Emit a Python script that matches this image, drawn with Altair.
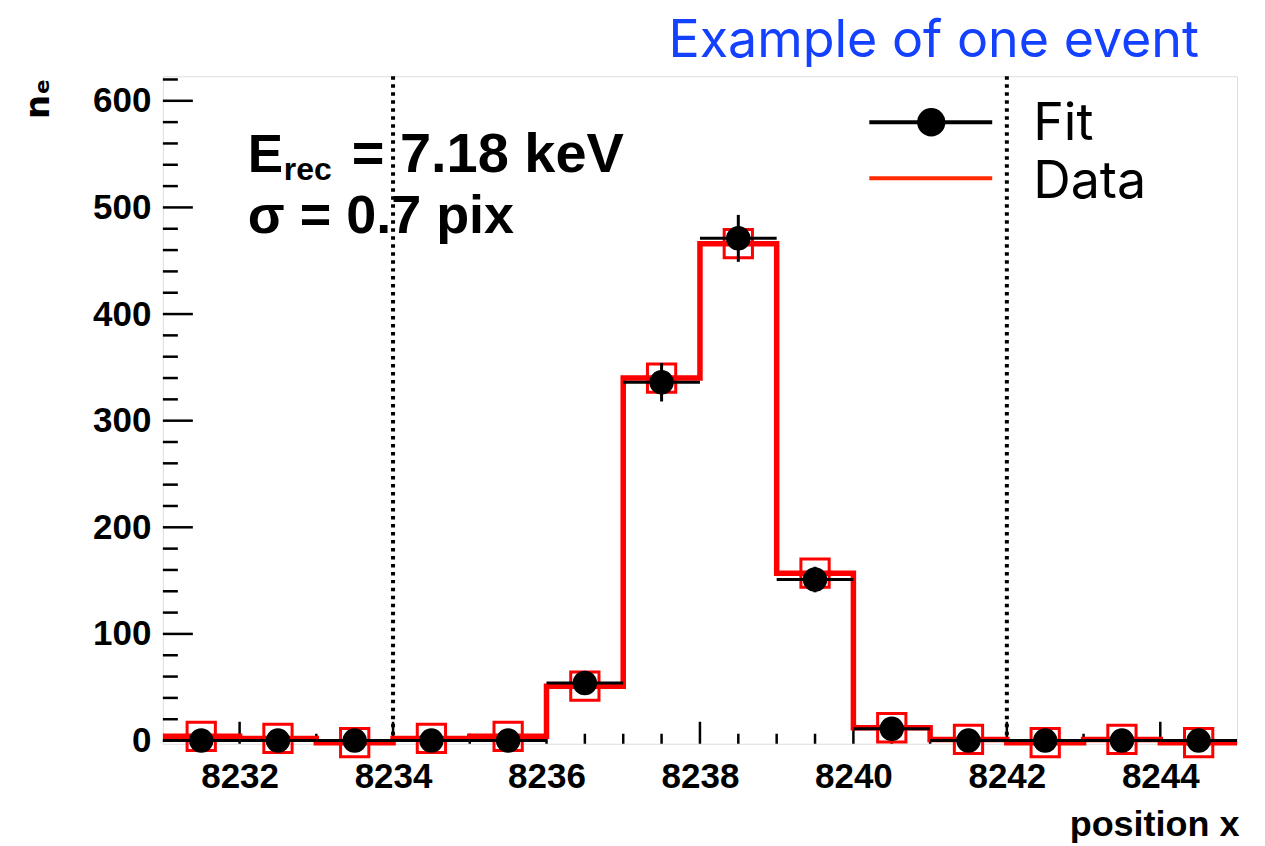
import altair as alt
import pandas as pd

# ---- data ----
bin_centers = [8231.5, 8232.5, 8233.5, 8234.5, 8235.5, 8236.5, 8237.5,
               8238.5, 8239.5, 8240.5, 8241.5, 8242.5, 8243.5, 8244.5]
fit_values = [0, 0, 0, 0, 0, 54, 336, 471, 151, 11, 0, 0, 0, 0]
fit_errors = [0, 0, 0, 0, 0, 7, 18, 22, 12, 3, 0, 0, 0, 0]
data_values = [4, 2, -2, 2, 4, 51, 340, 466, 157, 12, 1, -2, 1, -2]
bin_width = 1.0

x_label_values = [8232, 8234, 8236, 8238, 8240, 8242, 8244]
y_label_values = [0, 100, 200, 300, 400, 500, 600]
x_minor_ticks = [8231.5, 8232.5, 8233, 8233.5, 8234.5, 8235, 8235.5, 8236.5,
                 8237, 8237.5, 8238.5, 8239, 8239.5, 8240.5, 8241, 8241.5,
                 8242.5, 8243, 8243.5, 8244.5]
y_minor_ticks = [20, 40, 60, 80, 120, 140, 160, 180, 220, 240, 260, 280,
                 320, 340, 360, 380, 420, 440, 460, 480, 520, 540, 560, 580, 620]
marker_lines = [8234, 8242]

X_DOMAIN = [8231, 8245]
Y_DOMAIN = [-3, 623]
W, H = 1075, 668

# ---- tables ----
df = pd.DataFrame({
    "x": bin_centers,
    "fit": fit_values,
    "err": fit_errors,
    "data": data_values,
})
df["lo"] = df["x"] - bin_width / 2
df["hi"] = df["x"] + bin_width / 2
df["fit_lo"] = df["fit"] - df["err"]
df["fit_hi"] = df["fit"] + df["err"]

step_df = pd.DataFrame({
    "edge": list(df["lo"]) + [df["hi"].iloc[-1]],
    "val": data_values + [data_values[-1]],
})

LABEL_FONT = "Liberation Sans, Arial"
TEXT_FONT = "Liberation Sans, Arial"
LEGEND_FONT = "Inter, Liberation Sans, Arial"

x_scale = alt.Scale(domain=X_DOMAIN, nice=False, zero=False)
y_scale = alt.Scale(domain=Y_DOMAIN, nice=False, zero=False)

x_axis = alt.Axis(
    values=x_label_values, format="d", ticks=False, domain=False, grid=False,
    labelFont=LABEL_FONT, labelFontSize=35, labelFontWeight="bold",
    labelColor="black", labelPadding=16,
    title="position x", titleFont=LABEL_FONT, titleFontSize=36,
    titleFontWeight="bold", titleColor="black",
    titleAnchor="end", titleAlign="right", titleBaseline="alphabetic",
    titleX=W + 2, titleY=92,
)
y_axis = alt.Axis(
    values=y_label_values, format="d", ticks=False, domain=False, grid=False,
    labelFont=LABEL_FONT, labelFontSize=35, labelFontWeight="bold",
    labelColor="black", labelPadding=12,
    title="nₑ", titleFont="DejaVu Sans, Liberation Sans", titleFontSize=34,
    titleFontWeight="bold",
    titleColor="black", titleAngle=270, titleAlign="center",
    titleBaseline="middle", titleX=-124, titleY=22,
)


def X(field):
    return alt.X(field, type="quantitative", scale=x_scale, axis=x_axis)


def Y(field):
    return alt.Y(field, type="quantitative", scale=y_scale, axis=y_axis)


base = alt.Chart(df)

# red histogram (data)
red_step = alt.Chart(step_df).mark_line(
    interpolate="step-after", color="#ff0000", strokeWidth=5.5
).encode(x=X("edge"), y=Y("val"))

red_squares = base.mark_point(
    shape="square", filled=False, color="#ff0000", size=800, strokeWidth=3,
    opacity=1
).encode(x=X("x"), y=Y("data"))

# black fit points with error bars
fit_xerr = base.mark_rule(color="black", strokeWidth=3).encode(
    x=X("lo"), x2="hi", y=Y("fit"))
fit_yerr = base.mark_rule(color="black", strokeWidth=3).encode(
    x=X("x"), y=Y("fit_lo"), y2="fit_hi")
fit_dots = base.mark_circle(color="black", size=600, opacity=1).encode(
    x=X("x"), y=Y("fit"))

# dotted vertical lines
dotted = alt.Chart(pd.DataFrame({"m": marker_lines})).mark_rule(
    color="black", strokeWidth=4, strokeDash=[3.5, 4.5]
).encode(x=X("m"), y=alt.value(0), y2=alt.value(H))

# inward ticks (ROOT style)
xt_major = alt.Chart(pd.DataFrame({"t": x_label_values})).mark_rule(
    color="black", strokeWidth=2.5
).encode(x=X("t"), y=alt.value(H), y2=alt.value(H - 22))
xt_minor = alt.Chart(pd.DataFrame({"t": x_minor_ticks})).mark_rule(
    color="black", strokeWidth=2.5
).encode(x=X("t"), y=alt.value(H), y2=alt.value(H - 10))
yt_major = alt.Chart(pd.DataFrame({"t": y_label_values})).mark_rule(
    color="black", strokeWidth=2.5
).encode(y=Y("t"), x=alt.value(0), x2=alt.value(30))
yt_minor = alt.Chart(pd.DataFrame({"t": y_minor_ticks})).mark_rule(
    color="black", strokeWidth=2.5
).encode(y=Y("t"), x=alt.value(0), x2=alt.value(15))


def text(t, x, y, size, weight="normal", color="black", align="left",
         font=TEXT_FONT):
    return alt.Chart(pd.DataFrame({"t": [t]})).mark_text(
        align=align, baseline="alphabetic", fontSize=size, fontWeight=weight,
        color=color, font=font
    ).encode(text="t:N", x=alt.value(x), y=alt.value(y))


annot = [
    text("E", 85, 96, 53, weight="bold"),
    text("rec", 121, 104, 32, weight="bold"),
    text("= 7.18 keV", 189, 96, 56, weight="bold"),
    text("σ = 0.7 pix", 85, 157, 54, weight="bold"),
    text("Example of one event", 1037, -19, 52, color="#1440ff",
         align="right", font=LEGEND_FONT),
    text("Fit", 871, 64, 52, font=LEGEND_FONT),
    text("Data", 871, 122, 52, font=LEGEND_FONT),
]

legend_fit_line = alt.Chart(pd.DataFrame({"k": [0]})).mark_rule(
    color="black", strokeWidth=4
).encode(x=alt.value(707), x2=alt.value(830), y=alt.value(46))
legend_fit_dot = alt.Chart(pd.DataFrame({"k": [0]})).mark_circle(
    color="black", size=800, opacity=1
).encode(x=alt.value(769), y=alt.value(46))
legend_data_line = alt.Chart(pd.DataFrame({"k": [0]})).mark_rule(
    color="#ff2a00", strokeWidth=4
).encode(x=alt.value(707), x2=alt.value(830), y=alt.value(102))

chart = alt.layer(
    dotted, xt_major, xt_minor, yt_major, yt_minor,
    red_step, red_squares, fit_xerr, fit_yerr, fit_dots,
    legend_fit_line, legend_fit_dot, legend_data_line,
    *annot,
).properties(
    width=W, height=H,
    autosize=alt.AutoSizeParams(type="none"),
    padding={"left": 155, "top": 68, "right": 20, "bottom": 100},
).configure_view(
    stroke="black", strokeWidth=2.5
).configure(background="white")

chart.save("out.html", embed_options={"renderer": "svg", "actions": False})
